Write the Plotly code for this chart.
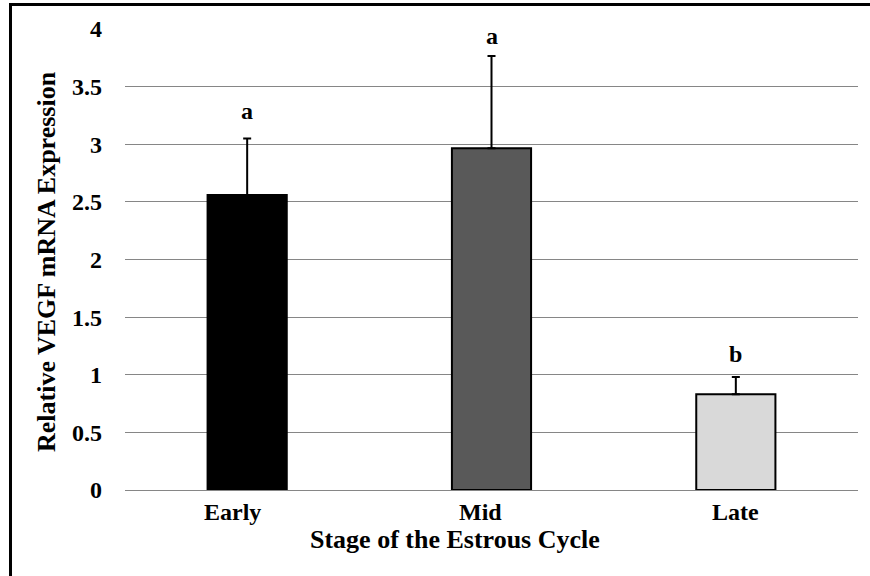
import plotly.graph_objects as go

# Relative VEGF mRNA expression across the estrous cycle
stages = ["Early", "Mid", "Late"]
expression = [2.56, 2.965, 0.83]
error_up = [0.49, 0.80, 0.15]
sig_letters = ["a", "a", "b"]
letter_height = [3.29, 3.94, 1.18]
y_ticks = [0, 0.5, 1, 1.5, 2, 2.5, 3, 3.5, 4]

bar_colors = ["#000000", "#595959", "#d9d9d9"]
label_nudge_px = [-15, -11, 0]
FONT = "Liberation Serif"

fig = go.Figure()
fig.add_trace(go.Bar(
    x=stages,
    y=expression,
    marker=dict(color=bar_colors, line=dict(color="#000000", width=2)),
    error_y=dict(type="data", array=error_up, arrayminus=[0] * len(stages),
                 symmetric=False, color="#000000", thickness=2, width=4),
    showlegend=False,
))

annotations = []
# significance letters above the error bars
for s, lab, h in zip(stages, sig_letters, letter_height):
    annotations.append(dict(x=s, y=h, xref="x", yref="y", text=lab, showarrow=False,
                            font=dict(family=FONT, size=24, color="#000000", weight="bold"),
                            xanchor="center", yanchor="middle"))
# category labels below the axis
for s, nudge in zip(stages, label_nudge_px):
    annotations.append(dict(x=s, y=0, xref="x", yref="paper", text=s, showarrow=False,
                            font=dict(family=FONT, size=24, color="#000000", weight="bold"),
                            xanchor="center", yanchor="middle", xshift=nudge, yshift=-22))
# axis titles
annotations.append(dict(x=0.45, y=-0.108, xref="paper", yref="paper",
                        text="Stage of the Estrous Cycle", showarrow=False,
                        font=dict(family=FONT, size=26, color="#000000", weight="bold"),
                        xanchor="center", yanchor="middle"))
annotations.append(dict(x=-0.1064, y=0.4946, xref="paper", yref="paper",
                        text="Relative VEGF mRNA Expression", showarrow=False, textangle=-90,
                        font=dict(family=FONT, size=26, color="#000000", weight="bold"),
                        xanchor="center", yanchor="middle"))

fig.update_layout(
    width=870, height=576,
    margin=dict(l=125, r=12, t=29, b=86),
    paper_bgcolor="#ffffff", plot_bgcolor="#ffffff",
    bargap=0.676,
    annotations=annotations,
    # frame around the whole figure, open at the right and bottom edges
    shapes=[dict(type="rect", xref="paper", yref="paper",
                 x0=-0.1562, x1=1.2, y0=-0.4, y1=1.0532,
                 line=dict(color="#000000", width=3), fillcolor="rgba(0,0,0,0)", layer="above")],
    xaxis=dict(showticklabels=False, showgrid=False, zeroline=False,
               showline=True, linecolor="#868686", linewidth=1, ticks=""),
    yaxis=dict(range=[0, 4], tickvals=y_ticks, showgrid=True, gridcolor="#868686", gridwidth=1,
               zeroline=False, showline=False, ticks="", ticklabelstandoff=22,
               tickfont=dict(family=FONT, size=24, color="#000000", weight="bold")),
)

fig.write_html("out.html")
